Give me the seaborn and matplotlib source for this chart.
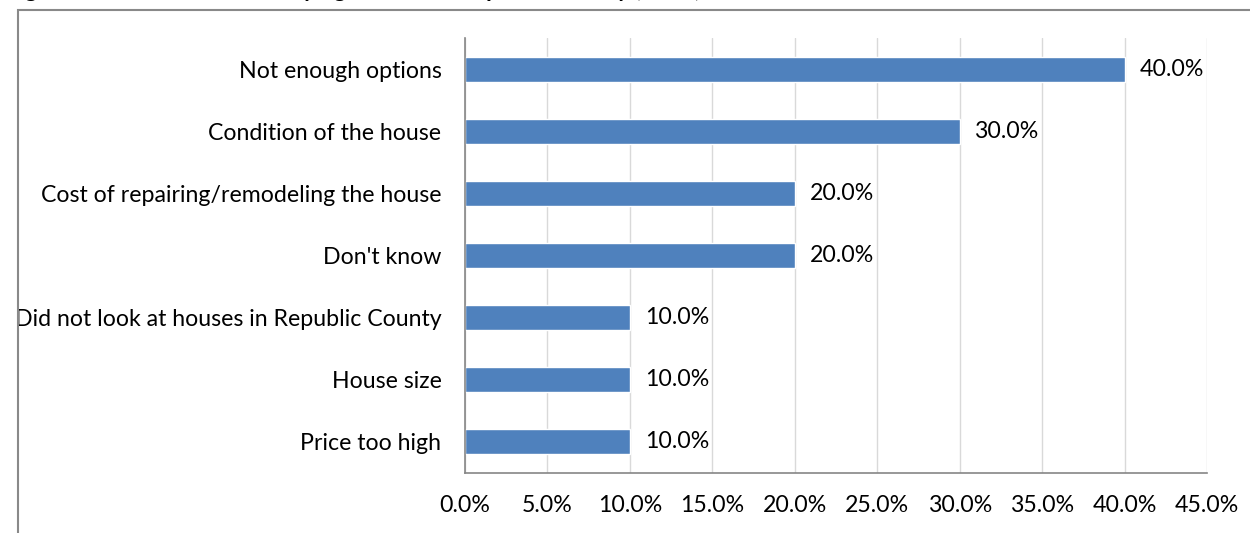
import matplotlib
matplotlib.use("Agg")
import matplotlib.pyplot as plt
import matplotlib.patches as mpatches
from matplotlib.ticker import FuncFormatter, MultipleLocator
import seaborn as sns
import pandas as pd

# data
reasons = [
    "Not enough options",
    "Condition of the house",
    "Cost of repairing/remodeling the house",
    "Don't know",
    "Did not look at houses in Republic County",
    "House size",
    "Price too high",
]
shares = [40.0, 30.0, 20.0, 20.0, 10.0, 10.0, 10.0]

df = pd.DataFrame({"Reason": reasons, "Share": shares})

sns.set_style("white")
plt.rcParams["font.family"] = ["Lato", "DejaVu Sans"]
plt.rcParams["text.color"] = "black"
plt.rcParams["xtick.color"] = "black"
plt.rcParams["ytick.color"] = "black"

fs = 16.7

fig = plt.figure(figsize=(12.5, 5.33), dpi=100)
ax = fig.add_axes([0.372, 0.1126, 0.5936, 0.8161])

sns.barplot(data=df, x="Share", y="Reason", orient="h", color="#4F81BD",
            saturation=1, width=0.4, ax=ax)

ax.set_xlim(0, 45)
ax.set_ylim(len(reasons) - 0.5, -0.5)
ax.xaxis.set_major_locator(MultipleLocator(5))
ax.xaxis.set_major_formatter(FuncFormatter(lambda v, p: f"{v:.1f}%"))
ax.grid(axis="x", color="#D9D9D9", linewidth=1)
ax.set_axisbelow(True)
ax.set_xlabel("")
ax.set_ylabel("")

for s in ["top", "right"]:
    ax.spines[s].set_visible(False)
for s in ["left", "bottom"]:
    ax.spines[s].set_color("#868686")
    ax.spines[s].set_linewidth(1.2)

# category ticks sit on the boundaries
ax.set_yticks(range(len(reasons)))
ax.set_yticklabels(reasons)
ax.set_yticks([i - 0.5 for i in range(len(reasons) + 1)], minor=True)
ax.tick_params(axis="y", which="major", length=0, pad=17, labelsize=fs,
               labelcolor="black")
ax.tick_params(axis="y", which="minor", length=6, color="#868686", width=1.2)
ax.tick_params(axis="x", length=6, color="#868686", width=1.2, labelsize=fs,
               pad=10, labelcolor="black")

for i, v in enumerate(shares):
    ax.text(v + 0.9, i, f"{v:.1f}%", va="center", ha="left", fontsize=fs,
            color="black")

# chart frame
fig.patches.append(mpatches.Rectangle((18 / 1250, -0.1), 1.2, 1 - 10 / 533 + 0.1,
                                      transform=fig.transFigure, fill=False,
                                      edgecolor="#898989", linewidth=1.5))

# title, cut off by the top edge
fig.text(0.005, 1.0 + 0.019, "Figure 5: Reasons for Not Buying Houses in Republic County (n=10)",
         fontsize=fs, fontweight="bold", va="center", ha="left")

fig.savefig("out.png", dpi=100)
